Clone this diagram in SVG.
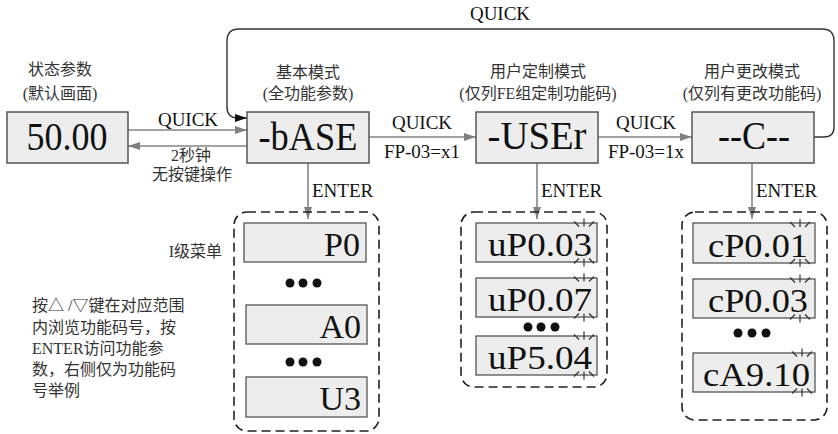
<svg xmlns="http://www.w3.org/2000/svg" xmlns:xlink="http://www.w3.org/1999/xlink" width="838" height="434" viewBox="0 0 838 434">
<style>
.box{fill:#ededed;stroke:#555;stroke-width:1.5}
.ibox{fill:#ededed;stroke:#555;stroke-width:1.3}
.cont{fill:none;stroke:#222;stroke-width:1.6;stroke-dasharray:9,5}
.big{font-family:"Liberation Serif","Times New Roman",serif;font-size:40px;fill:#111}
.mid{font-family:"Liberation Serif","Times New Roman",serif;font-size:34px;fill:#111}
.lab{font-family:"Liberation Serif","Times New Roman",serif;font-size:19px;fill:#111}
.cn{font-family:"Liberation Serif","Noto Sans CJK SC",sans-serif;font-size:16px;fill:#333}
.arr{stroke:#858585;stroke-width:1.6;fill:none}
.loop{stroke:#333;stroke-width:1.4;fill:none}
.sp{stroke:#333;stroke-width:1.2;fill:none}
.dot{fill:#111}
</style>
<defs>
<marker id="ag" viewBox="0 0 12 8" refX="12" refY="4" markerWidth="12" markerHeight="8" markerUnits="userSpaceOnUse" orient="auto"><path d="M0,0 L12,4 L0,8 z" fill="#808080"/></marker>
<marker id="ab" viewBox="0 0 12 8" refX="12" refY="4" markerWidth="12" markerHeight="8" markerUnits="userSpaceOnUse" orient="auto"><path d="M0,0 L12,4 L0,8 z" fill="#111"/></marker>
<g id="spark" class="sp">
<line x1="0" y1="-24" x2="0" y2="-16"/>
<line x1="-10" y1="-21" x2="-5" y2="-16"/>
<line x1="10" y1="-21" x2="5" y2="-16"/>
<line x1="0" y1="24" x2="0" y2="16"/>
<line x1="-10" y1="21" x2="-5" y2="16"/>
<line x1="10" y1="21" x2="5" y2="16"/>
</g>
</defs>

<g id="connectors">
<line class="arr" x1="128" y1="130" x2="247" y2="130" marker-end="url(#ag)"/>
<line class="arr" x1="247" y1="146" x2="128" y2="146" marker-end="url(#ag)"/>
<line class="arr" x1="369" y1="137" x2="476" y2="137" marker-end="url(#ag)"/>
<line class="arr" x1="598" y1="137" x2="692" y2="137" marker-end="url(#ag)"/>
<path class="loop" d="M814,137 H824 Q834,137 834,127 V41 Q834,29 822,29 H239 Q227,29 227,41 V107 Q227,118 238,118 H247" marker-end="url(#ab)"/>
<line class="arr" x1="308" y1="163" x2="308" y2="219" marker-end="url(#ag)"/>
<line class="arr" x1="537" y1="163" x2="537" y2="219" marker-end="url(#ag)"/>
<line class="arr" x1="752" y1="163" x2="752" y2="219" marker-end="url(#ag)"/>
<text class="lab" x="500" y="20" text-anchor="middle">QUICK</text>
<text class="lab" x="188" y="126" text-anchor="middle">QUICK</text>
<text class="cn" x="191" y="161" text-anchor="middle">2秒钟</text>
<text class="cn" x="192" y="180" text-anchor="middle">无按键操作</text>
<text class="lab" x="422" y="129" text-anchor="middle">QUICK</text>
<text class="lab" x="422" y="158" text-anchor="middle">FP-03=x1</text>
<text class="lab" x="646" y="129" text-anchor="middle">QUICK</text>
<text class="lab" x="646" y="158" text-anchor="middle">FP-03=1x</text>
<text class="lab" x="312" y="197">ENTER</text>
<text class="lab" x="541" y="197">ENTER</text>
<text class="lab" x="756" y="197">ENTER</text>
</g>

<g id="node-status">
<text class="cn" x="60" y="75" text-anchor="middle">状态参数</text>
<text class="cn" x="60" y="99" text-anchor="middle">(默认画面)</text>
<rect class="box" x="7" y="112" width="121" height="51"/>
<text class="big" x="67" y="150" text-anchor="middle" textLength="81" lengthAdjust="spacingAndGlyphs">50.00</text>
</g>

<g id="node-base">
<text class="cn" x="308" y="78" text-anchor="middle">基本模式</text>
<text class="cn" x="308" y="99" text-anchor="middle">(全功能参数)</text>
<rect class="box" x="247" y="112" width="122" height="51"/>
<text class="big" x="308" y="150" text-anchor="middle" textLength="99" lengthAdjust="spacingAndGlyphs">-bASE</text>
</g>

<g id="node-user">
<text class="cn" x="538" y="77" text-anchor="middle">用户定制模式</text>
<text class="cn" x="538" y="99" text-anchor="middle">(仅列FE组定制功能码)</text>
<rect class="box" x="476" y="112" width="122" height="51"/>
<text class="big" x="537" y="149" text-anchor="middle" textLength="99" lengthAdjust="spacingAndGlyphs">-USEr</text>
</g>

<g id="node-change">
<text class="cn" x="752" y="77" text-anchor="middle">用户更改模式</text>
<text class="cn" x="752" y="99" text-anchor="middle">(仅列有更改功能码)</text>
<rect class="box" x="692" y="112" width="122" height="51"/>
<text class="big" x="754" y="149" text-anchor="middle" textLength="72" lengthAdjust="spacingAndGlyphs">--C--</text>
</g>

<g id="note">
<text class="cn" x="222" y="257" text-anchor="end">I级菜单</text>
<text class="cn" x="32" y="311">按△ /▽键在对应范围</text>
<text class="cn" x="32" y="333">内浏览功能码号，按</text>
<text class="cn" x="32" y="354">ENTER访问功能参</text>
<text class="cn" x="32" y="375">数，右侧仅为功能码</text>
<text class="cn" x="32" y="396">号举例</text>
</g>

<g id="menu-base">
<rect class="cont" x="234" y="212" width="145" height="219" rx="13"/>
<rect class="ibox" x="244" y="223" width="122" height="39"/>
<text class="mid" x="360" y="256" text-anchor="end">P0</text>
<circle class="dot" cx="290" cy="283" r="4.5"/><circle class="dot" cx="303" cy="283" r="4.5"/><circle class="dot" cx="317" cy="283" r="4.5"/>
<rect class="ibox" x="246" y="305" width="121" height="39"/>
<text class="mid" x="361" y="338" text-anchor="end">A0</text>
<circle class="dot" cx="290" cy="362" r="4.5"/><circle class="dot" cx="303" cy="362" r="4.5"/><circle class="dot" cx="317" cy="362" r="4.5"/>
<rect class="ibox" x="246" y="377" width="121" height="40"/>
<text class="mid" x="361" y="410" text-anchor="end">U3</text>
</g>

<g id="menu-user">
<rect class="cont" x="461" y="212" width="146" height="175" rx="13"/>
<rect class="ibox" x="476" y="223" width="121" height="39"/>
<text class="mid" x="592" y="256" text-anchor="end" textLength="104" lengthAdjust="spacingAndGlyphs">uP0.03</text>
<use xlink:href="#spark" x="584" y="242.5"/>
<rect class="ibox" x="476" y="278" width="121" height="39"/>
<text class="mid" x="592" y="311" text-anchor="end" textLength="104" lengthAdjust="spacingAndGlyphs">uP0.07</text>
<use xlink:href="#spark" x="584" y="297.5"/>
<circle class="dot" cx="528" cy="327" r="4.5"/><circle class="dot" cx="541" cy="327" r="4.5"/><circle class="dot" cx="555" cy="327" r="4.5"/>
<rect class="ibox" x="476" y="336" width="121" height="39"/>
<text class="mid" x="592" y="369" text-anchor="end" textLength="104" lengthAdjust="spacingAndGlyphs">uP5.04</text>
<use xlink:href="#spark" x="584" y="355.5"/>
</g>

<g id="menu-change">
<rect class="cont" x="682" y="212" width="145" height="208" rx="13"/>
<rect class="ibox" x="693" y="223" width="122" height="40"/>
<text class="mid" x="808" y="257" text-anchor="end" textLength="100" lengthAdjust="spacingAndGlyphs">cP0.01</text>
<use xlink:href="#spark" x="800" y="243"/>
<rect class="ibox" x="693" y="279" width="122" height="39"/>
<text class="mid" x="808" y="312" text-anchor="end" textLength="100" lengthAdjust="spacingAndGlyphs">cP0.03</text>
<use xlink:href="#spark" x="800" y="298.5"/>
<circle class="dot" cx="738" cy="333" r="4.5"/><circle class="dot" cx="752" cy="333" r="4.5"/><circle class="dot" cx="766" cy="333" r="4.5"/>
<rect class="ibox" x="693" y="353" width="122" height="39"/>
<text class="mid" x="810" y="386" text-anchor="end" textLength="107" lengthAdjust="spacingAndGlyphs">cA9.10</text>
<use xlink:href="#spark" x="802" y="372.5"/>
</g>
</svg>
